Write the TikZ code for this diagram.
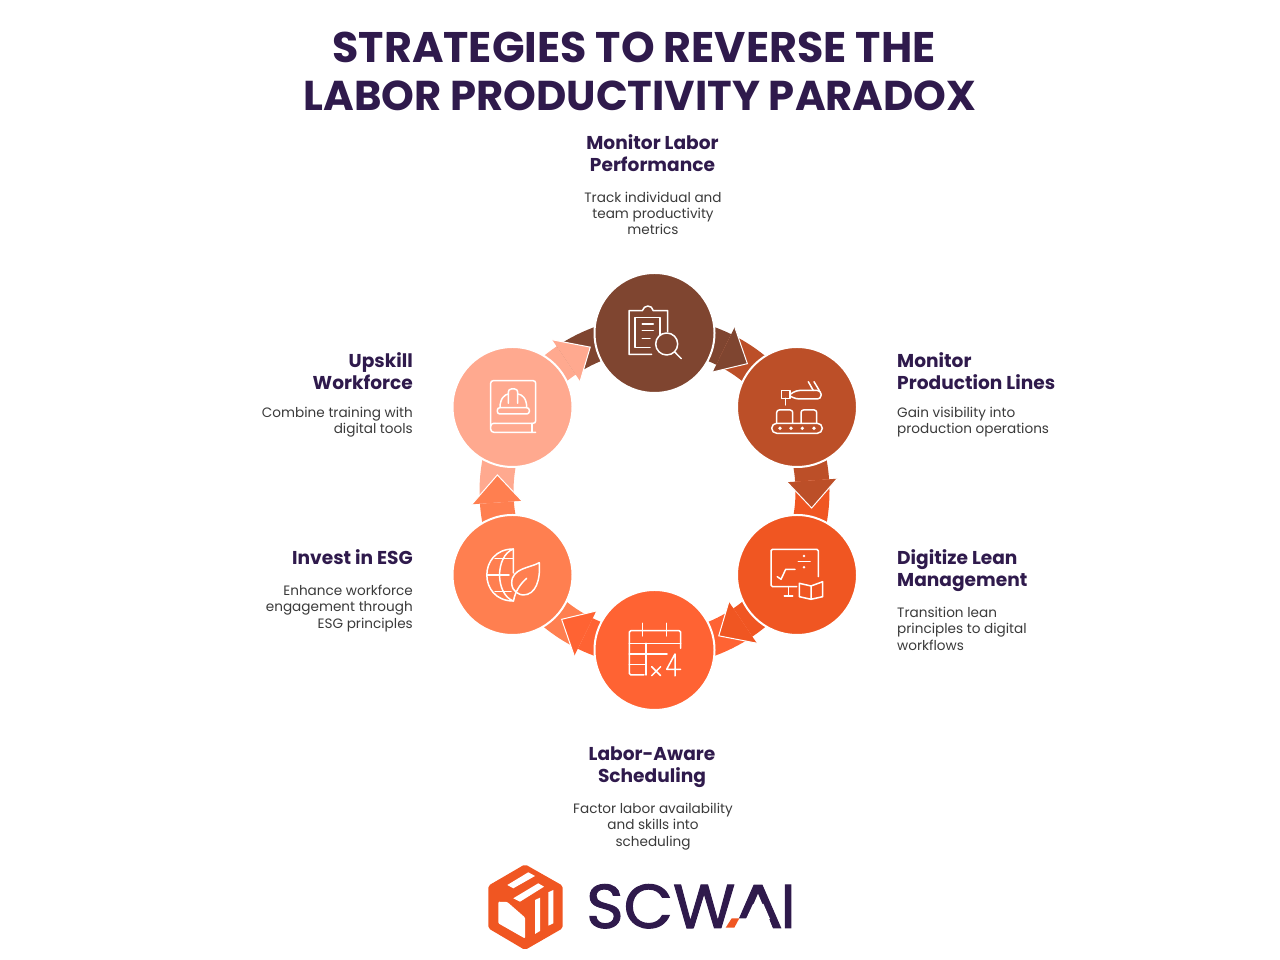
\documentclass[tikz,border=0pt]{standalone}
\usepackage{fontspec}
\setmainfont{Poppins}
\newfontfamily\logofont{Poppins}[FakeBold=1.6]
\usepackage{xcolor}
\usetikzlibrary{calc,positioning}
\definecolor{inkpurple}{HTML}{2F1A4C}
\definecolor{bodygrey}{HTML}{3A3A3A}
\definecolor{cbrown}{HTML}{7F4530}
\definecolor{crust}{HTML}{BC4F28}
\definecolor{corange}{HTML}{F05622}
\definecolor{ctomato}{HTML}{FF6333}
\definecolor{ccoral}{HTML}{FF7F50}
\definecolor{csalmon}{HTML}{FFA98F}
\tikzset{
  stage/.style={circle,draw=white,line width=2pt,minimum size=120pt,inner sep=0pt},
  titleline/.style={text=inkpurple,inner sep=0pt},
  headline/.style={font=\fontsize{18.6}{22}\selectfont\bfseries,text=inkpurple,inner sep=0pt},
  bodyline/.style={font=\fontsize{13.6}{16.3}\selectfont,text=bodygrey,inner sep=0pt},
  logoline/.style={font=\logofont\fontsize{62}{62}\selectfont,text=inkpurple,inner sep=0pt},
  icon/.style={draw=white,line width=1.5pt,line cap=round,line join=round},
}
\begin{document}
\begin{tikzpicture}[x=1pt,y=1pt]
\useasboundingbox (0,0) rectangle (1280,960);
\coordinate (ring) at (654.5,468.5);
% Ring bands: (colour, tip angle)
\foreach \col/\a in {cbrown/54,crust/-6,corange/-66,ctomato/-126,ccoral/174,csalmon/114}{%
  \fill[\col] ($(ring)+(\a+70:175)$) arc[start angle=\a+70,end angle=\a+10,radius=175pt]
    -- ($(ring)+(\a+10:141)$) arc[start angle=\a+10,end angle=\a+70,radius=141pt] -- cycle;
}
% Arrow heads (after all bands so they sit on top)
\foreach \col/\a in {cbrown/54,crust/-6,corange/-66,ctomato/-126,ccoral/174,csalmon/114}{%
  \fill[\col] ($(ring)+(\a+10:183)$) -- ($(ring)+(\a:158)$) -- ($(ring)+(\a+10:133)$) -- cycle;
  \draw[white,line width=1pt] ($(ring)+(\a+10:183)$) -- ($(ring)+(\a:158)$) -- ($(ring)+(\a+10:133)$);
}
% Stages
\node[stage,fill=cbrown] (monitor) at (654.5,627) {};
\node[stage,fill=crust] (lines) at (797,553) {};
\node[stage,fill=corange] (lean) at (797,385) {};
\node[stage,fill=ctomato] (sched) at (654.5,310) {};
\node[stage,fill=ccoral] (esg) at (512.5,385) {};
\node[stage,fill=csalmon] (skill) at (512.5,553) {};
% Title
\node[titleline,font=\fontsize{42.8}{48}\selectfont\bfseries] (titlea) at (634,912.5) {STRATEGIES TO REVERSE THE};
\node[titleline,font=\fontsize{41.7}{48}\selectfont\bfseries] (titleb) at (640,864.5) {LABOR PRODUCTIVITY PARADOX};
% Labels: (name, x, top, anchor, align, text)
\foreach \name/\x/\y/\anc/\al/\lab in {%
  hmonitor/652.5/826/north/center/{Monitor Labor\\Performance},%
  hlines/897/608/north west/left/{Monitor\\Production Lines},%
  hlean/897/411/north west/left/{Digitize Lean\\Management},%
  hsched/652/213/north/center/{Labor-Aware\\Scheduling},%
  hesg/413/411/north east/right/{Invest in ESG},%
  hskill/413/608/north east/right/{Upskill\\Workforce}}{%
  \node[headline,anchor=\anc,align=\al] (\name) at (\x,\y) {\lab};
}
\foreach \name/\x/\y/\anc/\al/\lab in {%
  bmonitor/653/768.5/north/center/{Track individual and\\team productivity\\metrics},%
  blines/897/553/north west/left/{Gain visibility into\\production operations},%
  blean/897/353/north west/left/{Transition lean\\principles to digital\\workflows},%
  bsched/653/157/north/center/{Factor labor availability\\and skills into\\scheduling},%
  besg/413/375/north east/right/{Enhance workforce\\engagement through\\ESG principles},%
  bskill/413/553/north east/right/{Combine training with\\digital tools}}{%
  \node[bodyline,anchor=\anc,align=\al] (\name) at (\x,\y) {\lab};
}
% Logo lettering
\node[logoline,anchor=base west,xscale=1.03] (logoscw) at (586,32) {SCW};
\node[logoline,anchor=base,xscale=1.2] (logoa) at (758,32) {A};
\node[logoline,anchor=base east] (logoi) at (796,32) {I};
% Icons and logo mark, in picture pixels from the top
\begin{scope}[shift={(0,960)},yscale=-1]
% clipboard
\draw[icon] (667.7,331.7) -- (667.7,310.7) -- (653.3,310.7) .. controls (652,304.5) and (644,304.5) .. (642.3,310.7) -- (629,310.7) -- (629,354.3) -- (651.7,354.3);
\draw[icon] (660,335) -- (660,317.3) -- (635,317.3) -- (635,347.3) -- (650,347.3);
\draw[icon] (642.3,324) -- (653.3,324) (642.3,330.7) -- (653.3,330.7) (642.3,338.3) -- (650,338.3);
\draw[icon] (666.7,344) circle[radius=11pt] (674.5,351.8) -- (681.3,358.7);
% robot arm and belt
\draw[icon] (781.7,390.7) rectangle (790,398.3) (785.7,398.3) -- (785.7,405);
\draw[icon,rounded corners=3.5pt] (790,394.5) -- (796,390.5) -- (821,390.5) -- (821,399) -- (796,399) -- (790,396);
\draw[icon] (808.3,381.7) -- (813.3,390.5) (814,381.7) -- (819.3,390.5);
\draw[icon,rounded corners=2.5pt] (776.7,423.3) -- (776.7,410) -- (792.7,410) -- (792.7,423.3);
\draw[icon,rounded corners=2.5pt] (801,423.3) -- (801,410) -- (816.7,410) -- (816.7,423.3);
\draw[icon,rounded corners=5pt] (771.7,423.3) rectangle (822.3,433.3);
\foreach \dotx in {780,791,802.3,814}{\fill[white] (\dotx,428.3) circle[radius=1.8pt];}
% monitor and book
\draw[icon,rounded corners=1.5pt] (818.3,576.7) -- (818.3,549.3) -- (771,549.3) -- (771,586.7) -- (796.7,586.7);
\draw[icon] (788.3,586.7) -- (788.3,596) (784.3,596) -- (792.7,596);
\draw[icon] (777.3,576.7) -- (781,579.3) -- (785.7,569.3) -- (795,569.3);
\draw[icon] (798.3,561.7) -- (810,561.7);
\fill[white] (804,556) circle[radius=1.4pt] (804,567.3) circle[radius=1.4pt];
\draw[icon] (799.3,583.3) -- (799.3,596.7) -- (811,599.3) -- (822.7,596.7) -- (822.7,581.7) -- (811,586) -- cycle (811,586) -- (811,599.3);
% calendar
\draw[icon,rounded corners=1.5pt] (680.7,648.3) -- (680.7,630.7) -- (629.3,630.7) -- (629.3,675) -- (644,675);
\draw[icon] (642.7,623.3) -- (642.7,636) (666.7,623.3) -- (666.7,636);
\draw[icon] (629.3,643.3) -- (680.7,643.3) (629.3,654) -- (667,654) (629.3,664.3) -- (646,664.3) (646,643.3) -- (646,675);
\draw[icon] (651.7,666.7) -- (660.7,675.7) (660.7,666.7) -- (651.7,675.7);
\draw[icon] (675,676) -- (675,654) -- (666.7,669.3) -- (680.7,669.3);
% globe and leaf
\draw[icon] (513.3,549) .. controls (478,549) and (478,601) .. (513.3,601) (513.3,549) -- (513.3,573);
\draw[icon] (513.3,549) .. controls (495,556) and (495,594) .. (513.3,601);
\draw[icon] (495,558.3) -- (513.3,558.3) (486.7,575) -- (509,575) (495,591.7) -- (511,591.7);
\draw[icon] (539.3,562.7) .. controls (530,568) and (511.7,568) .. (511.7,583) .. controls (511.7,592) and (520,595) .. (523,595) .. controls (536,595) and (540.5,580) .. (539.3,562.7) -- cycle;
\draw[icon] (513.5,601) .. controls (515,592) and (520,584) .. (526.7,578.3);
% book and helmet
\draw[icon,rounded corners=2.5pt] (490.7,426) -- (490.7,380.7) -- (535.7,380.7) -- (535.7,423.3) -- (495,423.3);
\draw[icon,rounded corners=3pt] (495,423.3) -- (490.7,423.3) -- (490.7,432.3) -- (535.7,432.3);
\draw[icon] (532,423.3) -- (532,432.3);
\draw[icon,rounded corners=2.5pt] (497.3,407.7) rectangle (529.3,414);
\draw[icon] (500,407.7) .. controls (500,398) and (505,394.5) .. (508.3,394) (518,394) .. controls (522,394.5) and (526.7,398) .. (526.7,407.7);
\draw[icon,rounded corners=3pt] (508.3,403.3) -- (508.3,389) -- (517.7,389) -- (517.7,403.3);
% logo mark: hexagon, then cut-outs
\fill[corange,rounded corners=2pt] (525,864.3) -- (562.7,885.7) -- (562.7,928.3) -- (525,950) -- (488.3,928.3) -- (488.3,885.7) -- cycle;
\fill[white,rounded corners=1pt] (507.3,902) -- (525,917.5) -- (525,938.5) -- (498.3,923.3) -- (498.3,901.7) -- cycle;
\fill[white] (507.3,885) -- (528.3,872.3) -- (535,876) -- (513.3,888.3) -- cycle;
\fill[white] (513.3,898.3) -- (538.3,883.3) -- (544,886.7) -- (520,901.7) -- cycle;
\fill[white] (535,900) -- (540,897.7) -- (540,931) -- (535,934) -- cycle;
\fill[white] (548.3,892.3) -- (553.3,890) -- (553.3,923.3) -- (548.3,925.7) -- cycle;
% cut the A's bar and left foot, then the dash
\fill[white] (728,918.5) -- (769,918.5) -- (773,930) -- (728,930) -- cycle;
\fill[white] (753,904) -- (763.5,904) -- (770,919) -- (746,919) -- cycle;
\fill[corange] (725.7,927.7) -- (731.7,918.3) -- (739.3,918.3) -- (734.3,927.7) -- cycle;
\end{scope}
\end{tikzpicture}
\end{document}
